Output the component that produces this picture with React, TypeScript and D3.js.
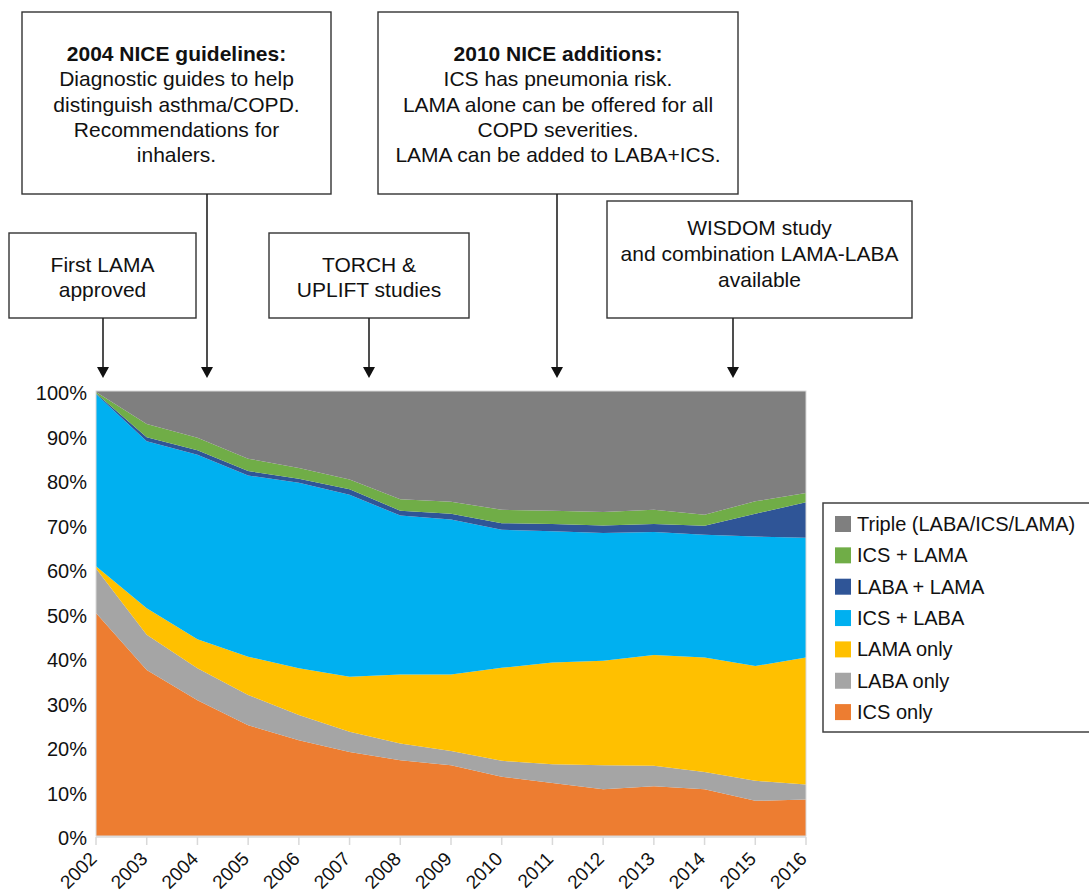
import React from "react";
import * as d3 from "d3";

const years = ["2002","2003","2004","2005","2006","2007","2008","2009","2010","2011","2012","2013","2014","2015","2016"];
const seriesNames = ["ICS only","LABA only","LAMA only","ICS + LABA","LABA + LAMA","ICS + LAMA","Triple (LABA/ICS/LAMA)"];
const seriesColors = ["#ed7d31","#a5a5a5","#ffc000","#00b0f0","#2f5597","#70ad47","#7f7f7f"];

const icsOnly   = [50.1,37.3,30.5,24.9,21.5,18.9,17.0,15.9,13.3,11.9,10.5,11.2,10.5,7.9,8.2];
const labaOnly  = [10.0,7.9,7.2,6.8,5.7,4.5,3.8,3.2,3.6,4.2,5.4,4.6,3.9,4.5,3.4];
const lamaOnly  = [0.5,6.0,6.5,8.6,10.5,12.4,15.5,17.2,20.9,22.9,23.5,24.9,25.7,25.8,28.5];
const icsLaba   = [38.7,37.5,41.5,40.7,41.7,40.9,35.7,34.8,31.0,29.5,28.7,27.6,27.6,29.1,26.9];
const labaLama  = [0.2,0.9,1.0,1.0,0.9,1.2,1.1,1.3,1.5,1.6,1.7,1.8,2.0,5.1,8.0];
const icsLama   = [0.3,3.0,2.8,2.8,2.4,2.2,2.6,2.7,3.0,3.0,3.0,3.2,2.5,2.8,2.1];
const triple    = [0.2,7.4,10.5,15.2,17.3,19.9,24.3,24.9,26.7,26.9,27.2,26.7,27.8,24.8,22.9];

const yTicks = [0,10,20,30,40,50,60,70,80,90,100];

const seriesValues = [icsOnly, labaOnly, lamaOnly, icsLaba, labaLama, icsLama, triple];

const rows = years.map((y, i) => {
  const r: any = { year: y };
  seriesNames.forEach((n, k) => { r[n] = seriesValues[k][i]; });
  return r;
});

const annotations = [
  { x: 22, y: 12, w: 309, h: 182, cx: 176.5, arrowX: 207, lines: [
    { t: "2004 NICE guidelines:", bold: true, y: 61 },
    { t: "Diagnostic guides to help", y: 86 },
    { t: "distinguish asthma/COPD.", y: 111.5 },
    { t: "Recommendations for", y: 137 },
    { t: "inhalers.", y: 162 },
  ]},
  { x: 378, y: 12, w: 360, h: 182, cx: 558, arrowX: 557, lines: [
    { t: "2010 NICE additions:", bold: true, y: 61 },
    { t: "ICS has pneumonia risk.", y: 86 },
    { t: "LAMA alone can be offered for all", y: 111.5 },
    { t: "COPD severities.", y: 137 },
    { t: "LAMA can be added to LABA+ICS.", y: 162 },
  ]},
  { x: 9, y: 233, w: 187, h: 85, cx: 102.5, arrowX: 103, lines: [
    { t: "First LAMA", y: 272 },
    { t: "approved", y: 297 },
  ]},
  { x: 269, y: 233, w: 200, h: 85, cx: 369, arrowX: 369, lines: [
    { t: "TORCH &", y: 272 },
    { t: "UPLIFT studies", y: 297 },
  ]},
  { x: 607, y: 201, w: 305, h: 117, cx: 759.5, arrowX: 733, lines: [
    { t: "WISDOM study", y: 235 },
    { t: "and combination LAMA-LABA", y: 261 },
    { t: "available", y: 287 },
  ]},
];

export default function App() {
  const W = 1089, H = 892;
  const left = 96, right = 806, top = 391, bottom = 836;
  const x = d3.scalePoint<string>().domain(years).range([left, right]);
  const y = d3.scaleLinear().domain([0, 100]).range([bottom, top]);
  const stack = d3.stack<any>().keys(seriesNames);
  const stacked = stack(rows);
  const area = d3.area<any>()
    .x((d) => x(d.data.year) as number)
    .y0((d) => y(d[0]))
    .y1((d) => y(d[1]));

  const font = "'Liberation Sans', Arial, Helvetica, sans-serif";
  const legendOrder = [...seriesNames].reverse();
  const legendColors = [...seriesColors].reverse();

  return (
    <svg width={W} height={H} style={{ position: "absolute", left: 0, top: 0, background: "#fff" }} fontFamily={font}>
      <rect x={0} y={0} width={W} height={H} fill="#fff" />
      {stacked.map((s, i) => (
        <path key={s.key} d={area(s as any) || ""} fill={seriesColors[i]} />
      ))}
      <rect x={left} y={top} width={right - left} height={bottom - top} fill="none" stroke="#d9d9d9" strokeWidth={1} />
      {/* x axis */}
      <line x1={left} x2={right} y1={bottom + 1} y2={bottom + 1} stroke="#d9d9d9" strokeWidth={1.5} />
      {years.map((yr) => (
        <line key={"t" + yr} x1={x(yr)} x2={x(yr)} y1={bottom + 1} y2={bottom + 9} stroke="#d9d9d9" strokeWidth={1.5} />
      ))}
      {years.map((yr) => (
        <text key={"l" + yr} transform={`translate(${(x(yr) as number) + 2},${bottom + 24}) rotate(-45)`} textAnchor="end" fontSize={19} fill="#111">{yr}</text>
      ))}
      {yTicks.map((t) => (
        <text key={"y" + t} x={87} y={y(t) + 9} textAnchor="end" fontSize={20} fill="#111">{t + "%"}</text>
      ))}
      {/* legend */}
      <rect x={823} y={503} width={280} height={229} fill="#fff" stroke="#404040" strokeWidth={1.5} />
      {legendOrder.map((n, i) => (
        <g key={n} transform={`translate(835,${516 + i * 31.35})`}>
          <rect x={0} y={0} width={16} height={16} fill={legendColors[i]} />
          <text x={22} y={15} fontSize={20} fill="#111">{n}</text>
        </g>
      ))}
      {/* annotations */}
      {annotations.map((a, i) => (
        <g key={i}>
          <rect x={a.x} y={a.y} width={a.w} height={a.h} fill="#fff" stroke="#333" strokeWidth={1.4} />
          {a.lines.map((l, j) => (
            <text key={j} x={a.cx} y={l.y} textAnchor="middle" fontSize={21} fontWeight={l.bold ? "bold" : "normal"} fill="#111">{l.t}</text>
          ))}
          <line x1={a.arrowX} x2={a.arrowX} y1={a.y + a.h} y2={368} stroke="#222" strokeWidth={1.6} />
          <path d={`M${a.arrowX - 6},367 L${a.arrowX + 6},367 L${a.arrowX},378 Z`} fill="#111" />
        </g>
      ))}
    </svg>
  );
}
